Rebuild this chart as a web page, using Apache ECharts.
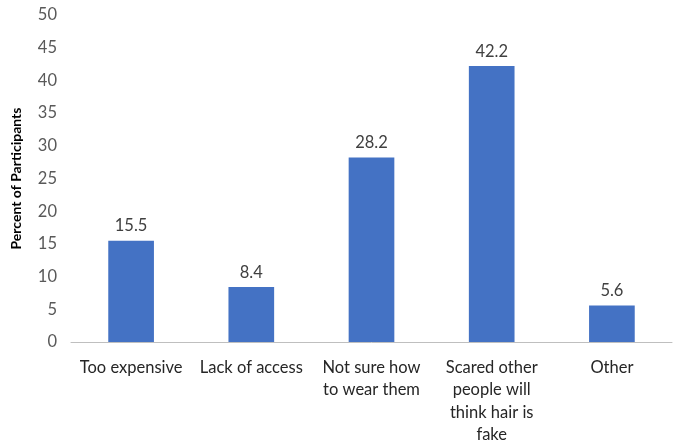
<!DOCTYPE html>
<html>
<head>
<meta charset="utf-8">
<script src="https://cdn.jsdelivr.net/npm/echarts@6/dist/echarts.min.js"></script>
<style>html,body{margin:0;padding:0;background:#fff;}#c{width:677px;height:442px;}</style>
</head>
<body>
<div id="c"></div>
<script>
const categories = ["Too expensive", "Lack of access", "Not sure how\nto wear them", "Scared other\npeople will\nthink hair is\nfake", "Other"];
const values = [15.5, 8.4, 28.2, 42.2, 5.6];
const yTicks = {min: 0, max: 50, interval: 5};

const chart = echarts.init(document.getElementById('c'), null, {renderer: 'canvas'});
const font = 'Lato, "Open Sans", sans-serif';
chart.setOption({
  animation: false,
  grid: {left: 71, right: 5, top: 15, bottom: 100, containLabel: false, outerBoundsMode: 'none'},
  xAxis: {
    type: 'category',
    data: categories,
    axisLine: {lineStyle: {color: '#BFBFBF', width: 1}},
    axisTick: {show: false},
    axisLabel: {color: '#262626', fontSize: 16.5, fontFamily: font, lineHeight: 22.5, margin: 14, interval: 0}
  },
  yAxis: {
    type: 'value',
    min: yTicks.min, max: yTicks.max, interval: yTicks.interval,
    name: 'Percent of Participants',
    nameLocation: 'middle',
    nameGap: 48,
    nameTextStyle: {color: '#000', fontSize: 14, fontWeight: 'bold', fontFamily: font},
    axisLine: {show: false},
    axisTick: {show: false},
    splitLine: {show: false},
    axisLabel: {color: '#595959', fontSize: 16.5, fontFamily: font, margin: 14}
  },
  series: [{
    type: 'bar',
    data: values,
    barWidth: '38%',
    itemStyle: {color: '#4472C4'},
    label: {show: true, position: 'top', distance: 6, color: '#404040', fontSize: 16.5, fontFamily: font}
  }]
});
</script>
</body>
</html>
